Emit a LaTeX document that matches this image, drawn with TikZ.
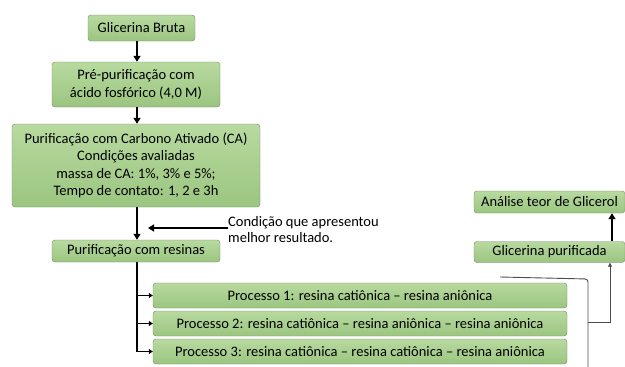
\documentclass[tikz,border=0pt]{standalone}
\usepackage{fontspec}
\setmainfont{Carlito}
\usetikzlibrary{arrows.meta}
\definecolor{boxtop}{RGB}{184,218,160}
\definecolor{boxbot}{RGB}{155,197,128}
\definecolor{boxline}{RGB}{115,135,105}

\begin{document}
\begin{tikzpicture}[x=1pt, y=-1pt,
  stage/.style={draw=boxline, top color=boxtop, bottom color=boxbot,
    rounded corners=3pt, align=center, inner sep=0pt,
    font=\fontsize{14.5}{17.5}\selectfont},
  thick arrow/.style={line width=2.2pt, -{Triangle[width=7pt,length=6pt]}},
  thin arrow/.style={line width=1.2pt, -{Triangle[width=5pt,length=4pt]}}]
  \useasboundingbox (0,0) rectangle (625,367);
  % main column
  \node[stage, minimum width=107pt, minimum height=26pt] (bruta) at (141.5,28) {Glicerina Bruta};
  \node[stage, minimum width=168pt, minimum height=45pt] (prep) at (136,84.5)
    {Pré-purificação com\\ácido fosfórico (4,0 M)};
  \node[stage, minimum width=248pt, minimum height=83pt] (carbono) at (136,165.5)
    {Purificação com Carbono Ativado (CA)\\Condições avaliadas\\massa de CA: 1\%, 3\% e 5\%;\\Tempo de contato: 1, 2 e 3h};
  \node[stage, minimum width=168pt, minimum height=22pt] (resinas) at (136,251) {Purificação com resinas};
  \draw[thick arrow] (bruta.south -| 137,0) -- (prep.north -| 137,0);
  \draw[thick arrow] (prep.south -| 137,0) -- (carbono.north -| 137,0);
  \draw[thick arrow] (carbono.south -| 137,0) -- (resinas.north -| 137,0);
  % note on the chosen condition
  \node[anchor=west, align=left, inner sep=0pt, font=\fontsize{14.5}{16}\selectfont] (nota) at (228,230)
    {Condição que apresentou\\melhor resultado.};
  \draw[thick arrow] (nota.west |- 0,228) -- (148,228);
  % processes
  \node[stage, minimum width=414pt, minimum height=25pt] (p1) at (360,295.5)
    {Processo 1: resina catiônica – resina aniônica};
  \node[stage, minimum width=414pt, minimum height=25pt] (p2) at (360,323.5)
    {Processo 2: resina catiônica – resina aniônica – resina aniônica};
  \node[stage, minimum width=414pt, minimum height=25pt] (p3) at (360,351.5)
    {Processo 3: resina catiônica – resina catiônica – resina aniônica};
  \draw[thin arrow] (resinas.south -| 137,0) |- (p3.west);
  \draw[thin arrow] (137,0 |- p1.west) -- (p1.west);
  \draw[thin arrow] (137,0 |- p2.west) -- (p2.west);
  % right side
  \node[stage, minimum width=151pt, minimum height=22pt] (analise) at (549.5,202) {Análise teor de Glicerol};
  \node[stage, minimum width=151pt, minimum height=21pt] (purificada) at (549.5,252) {Glicerina purificada};
  \draw[thick arrow] (purificada.north -| 612,0) -- (analise.south -| 612,0);
  \coordinate (saida) at (500,277);
  \coordinate (junta) at (588,322);
  \draw[black!70, line width=0.9pt, rounded corners=3pt] (saida) -- (588,279) -- (588,367);
  \draw[black!70, line width=0.9pt, -{Triangle[width=4pt,length=4pt]}] (junta) -| (purificada.south -| 610,0);
\end{tikzpicture}
\end{document}
